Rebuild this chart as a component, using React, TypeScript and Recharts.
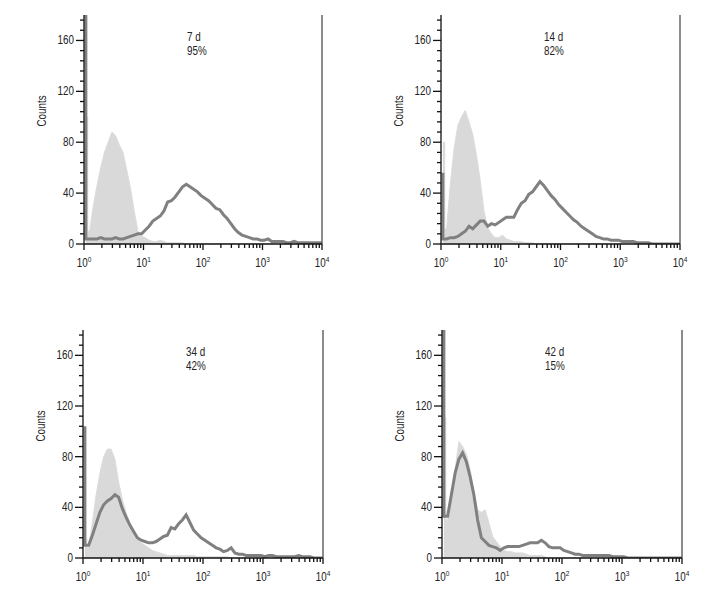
import React from 'react';
import { ComposedChart, Area, Line, XAxis, YAxis, ReferenceLine } from 'recharts';

const FONT = "'Liberation Sans', Arimo, Arial, sans-serif";
const SQUEEZE = 0.82;

// channel grid: bin centres, 16 bins per decade from 10^0 to 10^4 (log10 units)
const channels = Array.from({ length: 65 }, (_, i) => (i + 0.5) / 16);

const days = ['7 d', '14 d', '34 d', '42 d'];
const positive = ['95%', '82%', '42%', '15%'];

// isotype control (light grey fill)
const control7 = [
  100, 10, 30, 46, 60, 72, 80, 88, 85, 78, 72, 58, 44, 26, 10, 6, 5, 3, 2, 2, 3, 2, 1, 1, 1, 1, 1,
  0, 0, 0, 0, 0, 0, 0, 0, 0, 0, 0, 0, 0, 0, 0, 0, 0, 0, 0, 0, 0, 0, 0, 0, 0, 0, 0, 0, 0, 0, 0, 0, 0, 0, 0, 0, 0, 0,
];
const control14 = [
  80, 12, 47, 75, 93, 100, 105, 96, 86, 70, 50, 26, 13, 8, 5, 5, 7, 4, 3, 2, 2, 2, 1, 1, 1,
  0, 0, 0, 0, 0, 0, 0, 0, 0, 0, 0, 0, 0, 0, 0, 0, 0, 0, 0, 0, 0, 0, 0, 0, 0, 0, 0, 0, 0, 0, 0, 0, 0, 0, 0, 0, 0, 0, 0, 0,
];
const control34 = [
  15, 8, 28, 50, 67, 80, 86, 86, 78, 60, 46, 36, 28, 21, 15, 12, 10, 8, 6, 5, 4, 3, 2, 2, 2, 2, 2, 2, 2, 2, 1,
  1, 1, 1, 1, 1, 1, 1, 1, 0, 0, 0, 0, 0, 0, 0, 0, 0, 0, 0, 0, 0, 0, 0, 0, 0, 0, 0, 0, 0, 0, 0, 0, 0, 0,
];
const control42 = [
  111, 30, 50, 70, 92, 88, 82, 70, 52, 38, 36, 38, 28, 17, 13, 9, 6, 5, 5, 4, 4, 4, 3, 2, 2, 2, 2, 1,
  0, 0, 0, 0, 0, 0, 0, 0, 0, 0, 0, 0, 0, 0, 0, 0, 0, 0, 0, 0, 0, 0, 0, 0, 0, 0, 0, 0, 0, 0, 0, 0, 0, 0, 0, 0, 0,
];

// stained sample (dark grey line)
const sample7 = [
  300, 4, 4, 4, 5, 4, 4, 4, 5, 4, 4, 5, 6, 7, 8, 8, 11, 14, 18, 20, 22, 26, 33, 34, 37, 41, 45, 47, 45, 43, 41,
  38, 36, 34, 31, 28, 27, 23, 20, 16, 12, 9, 7, 6, 5, 4, 4, 3, 3, 4, 2, 2, 2, 2, 1, 1, 2, 1, 1, 1, 1, 1, 1, 1, 1,
];
const sample14 = [
  56, 4, 5, 5, 6, 8, 10, 14, 12, 15, 18, 18, 14, 16, 15, 17, 19, 21, 21, 21, 27, 32, 34, 39, 41, 45, 49, 46, 42, 38, 35,
  31, 28, 25, 22, 19, 17, 14, 12, 10, 8, 6, 5, 4, 4, 3, 3, 3, 2, 2, 2, 2, 1, 1, 1, 1, 0, 0, 0, 0, 0, 0, 0, 0, 0,
];
const sample34 = [
  104, 10, 18, 27, 36, 42, 45, 47, 50, 48, 39, 32, 26, 21, 16, 14, 13, 12, 12, 13, 15, 17, 18, 24, 23, 27, 30, 34, 28, 22, 19,
  16, 14, 12, 10, 8, 7, 5, 6, 8, 4, 3, 3, 2, 2, 2, 2, 2, 1, 2, 2, 1, 1, 1, 1, 1, 1, 2, 1, 1, 1, 0, 0, 0, 0,
];
const sample42 = [
  300, 33, 50, 67, 78, 83, 76, 64, 50, 30, 16, 13, 10, 9, 8, 6, 8, 9, 9, 9, 9, 10, 11, 12, 12, 12, 14, 12, 9, 8, 8,
  8, 6, 5, 4, 3, 3, 2, 2, 2, 2, 2, 2, 2, 2, 1, 1, 1, 1, 0, 0, 0, 0, 0, 0, 0, 0, 0, 0, 0, 0, 0, 0, 0, 0,
];

const yTicks = [0, 8, 16, 24, 32, 40, 48, 56, 64, 72, 80, 88, 96, 104, 112, 120, 128, 136, 144, 152, 160, 168, 176];
const yLabels = [0, 40, 80, 120, 160];
const decades = [0, 1, 2, 3, 4];
const xTicks = decades.flatMap((d) =>
  d === 4 ? [4] : [d, ...[2, 3, 4, 5, 6, 7, 8, 9].map((k) => d + Math.log10(k))]
);

// linear curve, except the first channel (pile-up at the axis) which is drawn as a step
function pileupCurve(frac: number) {
  return (context: any) => {
    let line = NaN;
    let pt = 0;
    let px = 0;
    let py = 0;
    return {
      areaStart() { line = 0; },
      areaEnd() { line = NaN; },
      lineStart() { pt = 0; },
      lineEnd() {
        if (line || (line !== 0 && pt === 1)) context.closePath();
        line = 1 - line;
      },
      point(x: number, y: number) {
        if (pt === 0) {
          if (line) context.lineTo(x, y);
          else context.moveTo(x, y);
        } else if (pt === 1) {
          const xm = px + frac * (x - px);
          context.lineTo(xm, py);
          context.lineTo(xm, y);
          context.lineTo(x, y);
        } else {
          context.lineTo(x, y);
        }
        px = x;
        py = y;
        pt++;
      },
    };
  };
}

const fillCurve = pileupCurve(0.5);
const traceCurve = pileupCurve(0);

function YTick({ x, y, payload }: any) {
  const major = yLabels.includes(payload.value);
  return (
    <g>
      <line x1={x - (major ? 8 : 4)} x2={x} y1={y} y2={y} stroke="#111" strokeWidth={1.3} />
      {major && (
        <text
          transform={`translate(${x - 10},${y + 4}) scale(${SQUEEZE},1)`}
          textAnchor="end"
          fontSize={12}
          fontFamily={FONT}
          fill="#222"
        >
          {payload.value}
        </text>
      )}
    </g>
  );
}

function XTick({ x, y, payload }: any) {
  const major = decades.includes(payload.value);
  return (
    <g>
      <line x1={x} x2={x} y1={y} y2={y + (major ? 6 : 4)} stroke="#111" strokeWidth={1.3} />
      {major && (
        <text
          transform={`translate(${x},${y + 23}) scale(${SQUEEZE},1)`}
          textAnchor="middle"
          fontSize={12}
          fontFamily={FONT}
          fill="#222"
        >
          <tspan>10</tspan>
          <tspan dy={-5} fontSize={8}>{payload.value}</tspan>
        </text>
      )}
    </g>
  );
}

interface PanelProps {
  left: number;
  top: number;
  plotW: number;
  plotH: number;
  ctrl: number[];
  sample: number[];
  day: string;
  pct: string;
}

function Panel({ left, top, plotW, plotH, ctrl, sample, day, pct }: PanelProps) {
  const data = channels.map((c, i) => ({ ch: c, ctrl: ctrl[i], sample: sample[i] }));
  const W = 84 + plotW + 18;
  const H = 15 + plotH + 36;
  return (
    <div style={{ position: 'absolute', left, top, width: W, height: H }}>
      <ComposedChart width={W} height={H} data={data} margin={{ top: 15, right: 18, bottom: 6, left: 4 }}>
        <XAxis
          dataKey="ch"
          type="number"
          domain={[0, 4]}
          ticks={xTicks}
          interval={0}
          tick={(p: any) => <XTick {...p} />}
          tickLine={false}
          tickSize={0}
          tickMargin={0}
          height={30}
          axisLine={{ stroke: '#111', strokeWidth: 1.3 }}
          allowDataOverflow
        />
        <YAxis
          type="number"
          domain={[0, 180]}
          ticks={yTicks}
          interval={0}
          tick={(p: any) => <YTick {...p} />}
          tickLine={false}
          tickSize={0}
          tickMargin={0}
          width={80}
          axisLine={{ stroke: '#111', strokeWidth: 1.3 }}
          allowDataOverflow
        />
        <Area
          type={fillCurve as any}
          dataKey="ctrl"
          fill="#d9d9d9"
          fillOpacity={1}
          stroke="#dcdcdc"
          strokeWidth={1}
          isAnimationActive={false}
        />
        <Line
          type={traceCurve as any}
          dataKey="sample"
          stroke="#808080"
          strokeWidth={3}
          dot={false}
          isAnimationActive={false}
        />
        <ReferenceLine x={4} stroke="#666" strokeWidth={1.5} />
      </ComposedChart>
      <div
        style={{
          position: 'absolute',
          left: 42,
          top: 15 + 96,
          transform: `translate(-50%, -50%) rotate(-90deg) scale(${SQUEEZE},1)`,
          fontFamily: FONT,
          fontSize: 12,
          color: '#222',
          whiteSpace: 'nowrap',
        }}
      >
        Counts
      </div>
      <div
        style={{
          position: 'absolute',
          left: 84 + 103,
          top: 15 + 15,
          transform: `scale(${SQUEEZE},1)`,
          transformOrigin: 'left top',
          fontFamily: FONT,
          fontSize: 12,
          lineHeight: '14px',
          color: '#222',
        }}
      >
        {day}
        <br />
        {pct}
      </div>
    </div>
  );
}

export default function App() {
  return (
    <div style={{ position: 'absolute', left: 0, top: 0, width: 720, height: 600, background: '#fff' }}>
      <Panel left={0} top={0} plotW={238} plotH={229} ctrl={control7} sample={sample7} day={days[0]} pct={positive[0]} />
      <Panel left={357} top={0} plotW={239} plotH={229} ctrl={control14} sample={sample14} day={days[1]} pct={positive[1]} />
      <Panel left={-1} top={315} plotW={240} plotH={228} ctrl={control34} sample={sample34} day={days[2]} pct={positive[2]} />
      <Panel left={358} top={315} plotW={240} plotH={228} ctrl={control42} sample={sample42} day={days[3]} pct={positive[3]} />
    </div>
  );
}
